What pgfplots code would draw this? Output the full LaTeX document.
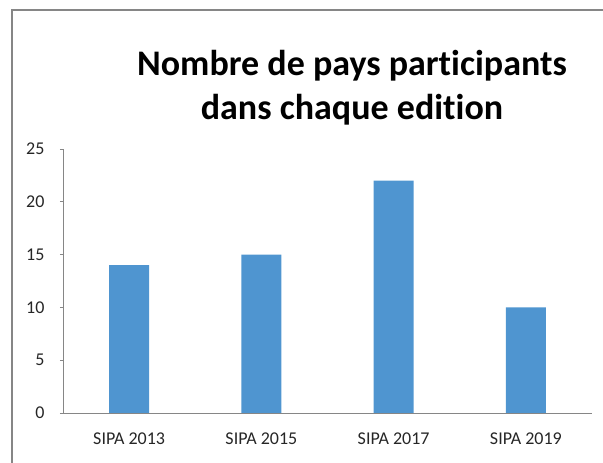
\documentclass[border=0pt]{standalone}
\usepackage{pgfplots}
\pgfplotsset{compat=1.18}
\usepackage{fontspec}
\setmainfont[Ligatures=NoCommon]{Carlito}
\definecolor{barblue}{RGB}{79,149,208}
\definecolor{axgray}{RGB}{134,134,134}
\begin{document}
\begin{tikzpicture}[x=1pt,y=1pt]
\useasboundingbox (0,0) rectangle (603,463);
\draw[axgray, line width=1.2pt] (12,0) -- (12,453) -- (603,453);
\node[font=\fontsize{36}{44}\selectfont\bfseries, align=center] at (352,375) {Nombre de pays participants\\dans chaque edition};
\begin{axis}[
  at={(63pt,50pt)}, anchor=south west,
  scale only axis, width=529pt, height=264pt,
  xmin=-0.5, xmax=3.5, ymin=0, ymax=25,
  axis x line*=bottom, axis y line*=left,
  axis line style={axgray, line width=0.8pt},
  xtick=data, xticklabels={SIPA 2013, SIPA 2015, SIPA 2017, SIPA 2019},
  ytick={0,5,...,25},
  tick style={axgray, line width=0.8pt},
  major tick length=3pt,
  x tick style={draw=none},
  tick align=outside,
  ticklabel style={font=\fontsize{18}{20}\selectfont, text=black!85},
  /pgf/number format/assume math mode=true,
  yticklabel style={xshift=-12pt},
  xticklabel style={yshift=-13pt},
  ybar, bar width=40pt,
]
\addplot[fill=barblue, draw=none] coordinates {(0,14) (1,15) (2,22) (3,10)};
\end{axis}
\end{tikzpicture}
\end{document}
